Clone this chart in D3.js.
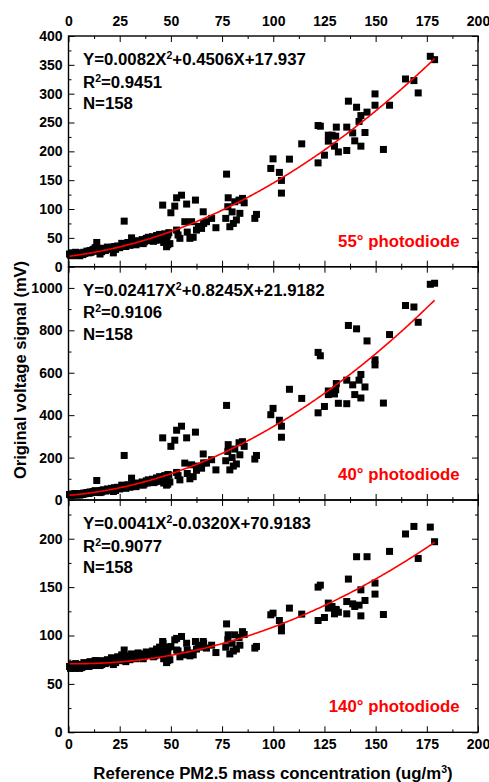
<!DOCTYPE html>
<html>
<head>
<meta charset="utf-8">
<script src="https://cdn.jsdelivr.net/npm/d3@7"></script>
<style>
  body { margin: 0; background: #fff; }
  text { font-family: "Liberation Sans", Arial, sans-serif; font-weight: bold; }
</style>
</head>
<body>
<svg id="chart" width="489" height="782"></svg>
<script>
// reference PM2.5 (ug/m3), shared by the three photodiodes
const pm = [
  0.5,1,1.5,2,2.5,3,3.5,4,5,5.5, 6,7,7.5,8,9,10,10.5,11,12,12.5,
  13,13.8,14,15,15.4,16,16.2,17,18,19, 20,21,21.9,22.5,23,24,25,26,26.7,27.2,
  28,29,30,30.8,31,32,33,34,35,36, 37,38,38.5,39,40,41,42,42.2,43,44,
  44.5,45,45.5,46.2,46.5,47,47.9,48,48.5,49, 3,6.5,9.5,14.5,18.5,24.5,33.5,36.5,41.5,
  46,50,51.9,52.8,55.2,57.7,62,65.8,56.8,60.1, 52.8,54.4,59.3,60.9,62.5,65,67.4,72,69.9,77.2,
  78,77.8,79.9,81.2,83.3,85,85.8,83.7,76.8,78.8, 82,91,91.8,80.5,47.5,48.5,49.5,53.5,58,63.5,
  66,
  176.7,178.8,164.6,168.7,170.8,156.8,136.7,140.7,145.8,149.7, 149.7,121.9,123,142.8,135.9,138.8,141.9,144.8,130.8,126.9,
  128.7,130.5,126.9,139.8,129.9,142.8,113.9,131.8,135.9,153.8, 125,121.9,107.9,99.9,98.8,103,104,104
];
// 55 deg photodiode (mV)
const v55 = [
  22,20,24,19,23,21,25,20,22,19, 24,21,25,23,27,24,28,25,30,27,
  33,42,29,31,22,29,26,32,28,34, 31,33.6,24,35,30,36,33,40.5,38,79,
  35,42,37,50,40,44,38,45,41,47, 43,49,45,51,47,52,49,46,54,50,
  56,46,52,52,42,57,34.6,48,38,59, 23,22,25,27,30,34,42,40,44,
  106.8,93.5,105,119.5,124,108.6,115.5,95.2,78,78, 63.5,49.2,49.2,51,63.5,66.4,78,67.6,83.8,160.5,
  119.5,104,95,112.6,115.5,118.4,110.8,92.5,83.8,69.3, 81,83.8,90.7,75,45,55,40,55,60,70,
  75,
  364.8,359,325.5,322.7,301.3,280,287,276.5,268,299.6, 280,244.8,243.6,262,242,232,251.8,232.7,242,228,
  228,226.3,217.7,218.2,209,209,213,199,201.5,203.3, 193.4,180,186.5,187,170.4,163.5,149.6,127.6
];
// 40 deg photodiode (mV)
const v40 = [
  26,23,28,22,27,25,30,24,28,23, 30,27,33,29,35,31,38,34,40,36,
  44,92,40,42,35,45,38,48,42,52, 47,55,40,58,45,60,52,70,62,210,
  55,72,60,103,68,78,63,80,72,85, 76,90,80,95,88,98,92,85,104,96,
  110,88,100,108,80,115,70,95,75,118, 29,27,33,37,46,55,72,70,82,
  293,253,282,329,348,293,320,217,174,166, 130,95,100,110,140,150,174,142,190,446,
  261,229,200,240,270,275,253,213,185,142, 170,193,210,160,100,120,85,115,125,160,
  175,
  1017,1022,917,910,838,780,823,807,750,661, 637,696,680,592,565,543,565,533,549,514,
  505,520,497,497,500,481,479,456,454,457, 441,411,522,432,402,376,348,296
];
// 140 deg photodiode (mV)
const v140 = [
  68,66,70,67,69,66,71,67,68,66, 70,68,72,69,71,68,73,70,72,69,
  74,74,71,73,69,72,70,74,71,75, 73,77,70,76,72,78,74,80,76,85,
  73,79,75,81,77,80,76,82,78,81, 79,83,80,82,80,84,82,79,86,83,
  88,80,84,92,76,86,72,78,74,88, 69,67,70,70,72,75,78,76,78,
  93.8,88.6,95.5,97,99,92,93.8,93.8,80,82, 85,78,79,80,86,88,87,82.4,90,112,
  100.7,95.5,92,100.7,98,104,101,90,88,81, 86,87,88.7,84,78,82,75,84,85,90,
  92,
  212,196.9,204.9,212.7,179.6,186.9,158.3,181.4,181.4,154.2, 142.8,150,152,147.2,135.1,132.7,131.4,136.2,126.5,133.5,
  130,127,128.3,130,122.4,120.3,122.1,124,122.4,121.7, 118.6,115.5,128.3,123.1,121.4,115.5,110,104.8
];

// quadratic fits  y = a x^2 + b x + c
const fit55 = [0.0082, 0.4506, 17.937];
const fit40 = [0.02417, 0.8245, 21.9182];
const fit140 = [0.0041, -0.0320, 70.9183];
const eqText = [["Y=0.0082X", "+0.4506X+17.937"], ["Y=0.02417X", "+0.8245X+21.9182"], ["Y=0.0041X", "-0.0320X+70.9183"]];
const r2Text = ["0.9451", "0.9106", "0.9077"];
const nText = ["158", "158", "158"];
const labels = ["55° photodiode", "40° photodiode", "140° photodiode"];
const xTicks = [0, 25, 50, 75, 100, 125, 150, 175, 200];

const svg = d3.select("#chart");
const left = 68.5, right = 478;
const x = d3.scaleLinear().domain([0, 200]).range([left, right]);
const xMinor = d3.range(12.5, 200, 25);
const fs = "16.8px";

const panels = [
  { vals: v55, fit: fit55, top: 36, bottom: 266.7, max: 400, major: d3.range(0, 401, 50), minor: d3.range(25, 400, 50) },
  { vals: v40, fit: fit40, top: 266.7, bottom: 500, max: 1100, major: d3.range(0, 1001, 200), minor: d3.range(100, 1100, 200) },
  { vals: v140, fit: fit140, top: 500, bottom: 732.3, max: 240, major: d3.range(0, 201, 50), minor: d3.range(25, 240, 50) }
];

const xmin = d3.min(pm), xmax = d3.max(pm);

panels.forEach((p, i) => {
  const y = d3.scaleLinear().domain([0, p.max]).range([p.bottom, p.top]);
  const g = svg.append("g");

  // y axes (left with labels, right without)
  g.append("g").attr("transform", `translate(${left},0)`)
    .call(d3.axisLeft(y).tickValues(p.major).tickSize(-6).tickPadding(6).tickFormat(d3.format("d")));
  g.append("g").attr("transform", `translate(${left},0)`)
    .call(d3.axisLeft(y).tickValues(p.minor).tickSize(-3).tickFormat(""));
  g.append("g").attr("transform", `translate(${right},0)`)
    .call(d3.axisRight(y).tickValues(p.major).tickSize(-6).tickFormat(""));
  g.append("g").attr("transform", `translate(${right},0)`)
    .call(d3.axisRight(y).tickValues(p.minor).tickSize(-3).tickFormat(""));

  // x axes top and bottom of every panel
  g.append("g").attr("transform", `translate(0,${p.top})`)
    .call(d3.axisTop(x).tickValues(xTicks).tickSize(-6).tickPadding(10).tickFormat(i === 0 ? d3.format("d") : ""));
  g.append("g").attr("transform", `translate(0,${p.top})`)
    .call(d3.axisTop(x).tickValues(xMinor).tickSize(-3).tickFormat(""));
  g.append("g").attr("transform", `translate(0,${p.bottom})`)
    .call(d3.axisBottom(x).tickValues(xTicks).tickSize(-6).tickPadding(7).tickFormat(i === 2 ? d3.format("d") : ""));
  g.append("g").attr("transform", `translate(0,${p.bottom})`)
    .call(d3.axisBottom(x).tickValues(xMinor).tickSize(-3).tickFormat(""));

  g.selectAll(".domain").remove();
  g.selectAll(".tick line").attr("stroke", "#000").attr("stroke-width", 1);
  g.selectAll(".tick text").attr("fill", "#000").style("font-size", "14px").style("font-weight", "bold");

  // points
  g.append("g").selectAll("rect")
    .data(pm.map((d, k) => [d, p.vals[k]]))
    .join("rect")
    .attr("x", d => x(d[0]) - 3.5)
    .attr("y", d => y(d[1]) - 3.5)
    .attr("width", 7)
    .attr("height", 7)
    .attr("fill", "#000");

  // fitted curve
  const [a, b, c] = p.fit;
  const line = d3.line().x(d => x(d)).y(d => y(a * d * d + b * d + c));
  g.append("path")
    .attr("d", line(d3.range(xmin, xmax, 0.5).concat([xmax])))
    .attr("fill", "none")
    .attr("stroke", "#ff0000")
    .attr("stroke-width", 1.6);

  // frame
  g.append("rect")
    .attr("x", left).attr("y", p.top)
    .attr("width", right - left).attr("height", p.bottom - p.top)
    .attr("fill", "none").attr("stroke", "#000").attr("stroke-width", 1.4);

  // equation block
  const eq = g.append("text").attr("x", 83).attr("y", p.top + 29).style("font-size", fs);
  eq.append("tspan").text(eqText[i][0]);
  eq.append("tspan").attr("dy", -6).style("font-size", "10.5px").text("2");
  eq.append("tspan").attr("dy", 6).text(eqText[i][1]);

  const r2 = g.append("text").attr("x", 83).attr("y", p.top + 51.5).style("font-size", fs);
  r2.append("tspan").text("R");
  r2.append("tspan").attr("dy", -6).style("font-size", "10.5px").text("2");
  r2.append("tspan").attr("dy", 6).text("=" + r2Text[i]);

  g.append("text").attr("x", 83).attr("y", p.top + 73).style("font-size", fs).text("N=" + nText[i]);

  g.append("text")
    .attr("x", 459.5).attr("y", p.bottom - 20)
    .attr("text-anchor", "end")
    .attr("fill", "#ff0000")
    .style("font-size", fs)
    .text(labels[i]);
});

// axis titles
svg.append("text")
  .attr("transform", "translate(26,370) rotate(-90)")
  .attr("text-anchor", "middle")
  .style("font-size", "16.5px")
  .text("Original voltage signal (mV)");

const xt = svg.append("text")
  .attr("x", 273).attr("y", 779)
  .attr("text-anchor", "middle")
  .style("font-size", fs);
xt.append("tspan").text("Reference PM2.5 mass concentration (ug/m");
xt.append("tspan").attr("dy", -6).style("font-size", "10.5px").text("3");
xt.append("tspan").attr("dy", 6).text(")");
</script>
</body>
</html>
